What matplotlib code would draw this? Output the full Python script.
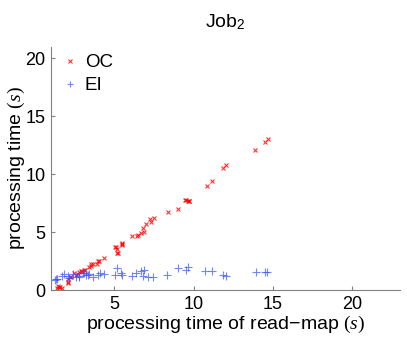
import numpy as np
from matplotlib import pyplot as plt

plt.rcParams['font.family'] = ['Liberation Sans', 'DejaVu Sans']
plt.rcParams['mathtext.fontset'] = 'custom'
plt.rcParams['mathtext.rm'] = 'Liberation Serif'
plt.rcParams['mathtext.it'] = 'Liberation Serif:italic'
plt.rcParams['mathtext.sf'] = 'Liberation Sans'

# OC: (read-map time, processing time)
oc_x = [1.37, 1.43, 1.53, 1.60, 1.70, 2.06, 2.06, 2.06, 2.23, 2.27, 2.48, 2.59, 2.69,
        2.79, 2.90, 2.96, 3.11, 3.17, 3.42, 3.53, 3.53, 3.64, 3.91, 3.95, 4.06, 4.33,
        5.04, 5.11, 5.15, 5.17, 5.21, 5.47, 5.49, 5.49, 6.09, 6.43, 6.47, 6.68, 6.79,
        6.89, 6.99, 7.27, 7.31, 7.52, 8.36, 8.99, 9.47, 9.52, 9.62, 9.69, 9.73, 10.82,
        11.16, 11.83, 12.04, 13.87, 14.50, 14.68]
oc_y = [0.14, 0.34, 0.28, 0.28, 0.20, 0.72, 0.57, 0.92, 1.15, 1.15, 1.44, 1.29, 1.38,
        1.58, 1.66, 1.64, 1.72, 1.72, 2.01, 2.07, 2.21, 2.24, 2.21, 2.50, 2.50, 2.80,
        3.68, 3.68, 3.53, 3.16, 3.22, 3.97, 4.02, 3.88, 4.66, 4.66, 4.74, 4.89, 5.37,
        5.03, 5.66, 6.12, 5.89, 6.23, 6.75, 7.01, 7.76, 7.76, 7.67, 7.67, 7.67, 8.99,
        9.40, 10.55, 10.78, 12.13, 12.78, 13.00]

# EI
ei_x = [1.23, 1.33, 1.39, 1.70, 1.81, 2.06, 2.16, 2.38, 2.59, 2.79, 2.79, 3.01, 3.11,
        3.22, 3.32, 3.42, 3.64, 3.95, 4.12, 4.37, 5.06, 5.17, 5.42, 5.47, 6.10, 6.37,
        6.68, 6.83, 6.89, 7.10, 7.42, 8.30, 9.00, 9.52, 9.67, 10.72, 11.14, 11.87,
        12.04, 13.93, 14.50, 14.62]
ei_y = [0.86, 0.95, 0.92, 1.24, 1.35, 1.20, 1.00, 1.38, 1.15, 1.24, 1.15, 1.44, 1.44,
        1.29, 1.29, 1.35, 1.15, 1.29, 1.44, 1.35, 1.29, 1.87, 1.44, 1.29, 1.24, 1.49,
        1.64, 1.24, 1.72, 1.15, 1.09, 1.29, 1.87, 1.72, 1.95, 1.64, 1.64, 1.29,
        1.24, 1.58, 1.58, 1.58]

fig = plt.figure(figsize=(4.07, 3.42), dpi=100)
ax = fig.add_axes([0.125, 0.152, 0.858, 0.711])

ax.plot(oc_x, oc_y, linestyle='none', marker='x', color='red', markersize=3.5,
        markeredgewidth=0.8, alpha=0.8, label='OC')
ax.plot(ei_x, ei_y, linestyle='none', marker='+', color='#3355ff', markersize=6,
        markeredgewidth=0.8, alpha=0.7, label='EI')

ax.set_xlim(1, 23)
ax.set_ylim(0, 21)
ax.set_xticks([5, 10, 15, 20])
ax.set_yticks([0, 5, 10, 15, 20])

for s in ['top', 'right']:
    ax.spines[s].set_visible(False)
for s in ['left', 'bottom']:
    ax.spines[s].set_color('#808080')
ax.tick_params(direction='in', length=3, color='#808080', labelsize=13, pad=4)

ax.set_xlabel('processing time of read\u2212map $(s)$', fontsize=14, labelpad=1)
ax.set_ylabel('processing time $(s)$', fontsize=14, labelpad=-1)
ax.set_title('Job$_\\mathsf{2}$', fontsize=14, pad=14)

leg = ax.legend(loc='upper left', bbox_to_anchor=(0.011, 1.0), frameon=False,
                fontsize=13.5, handletextpad=0.4, borderaxespad=0, labelspacing=0.3,
                handlelength=0.8, markerscale=0.8)

plt.savefig('out.png')
plt.close()
